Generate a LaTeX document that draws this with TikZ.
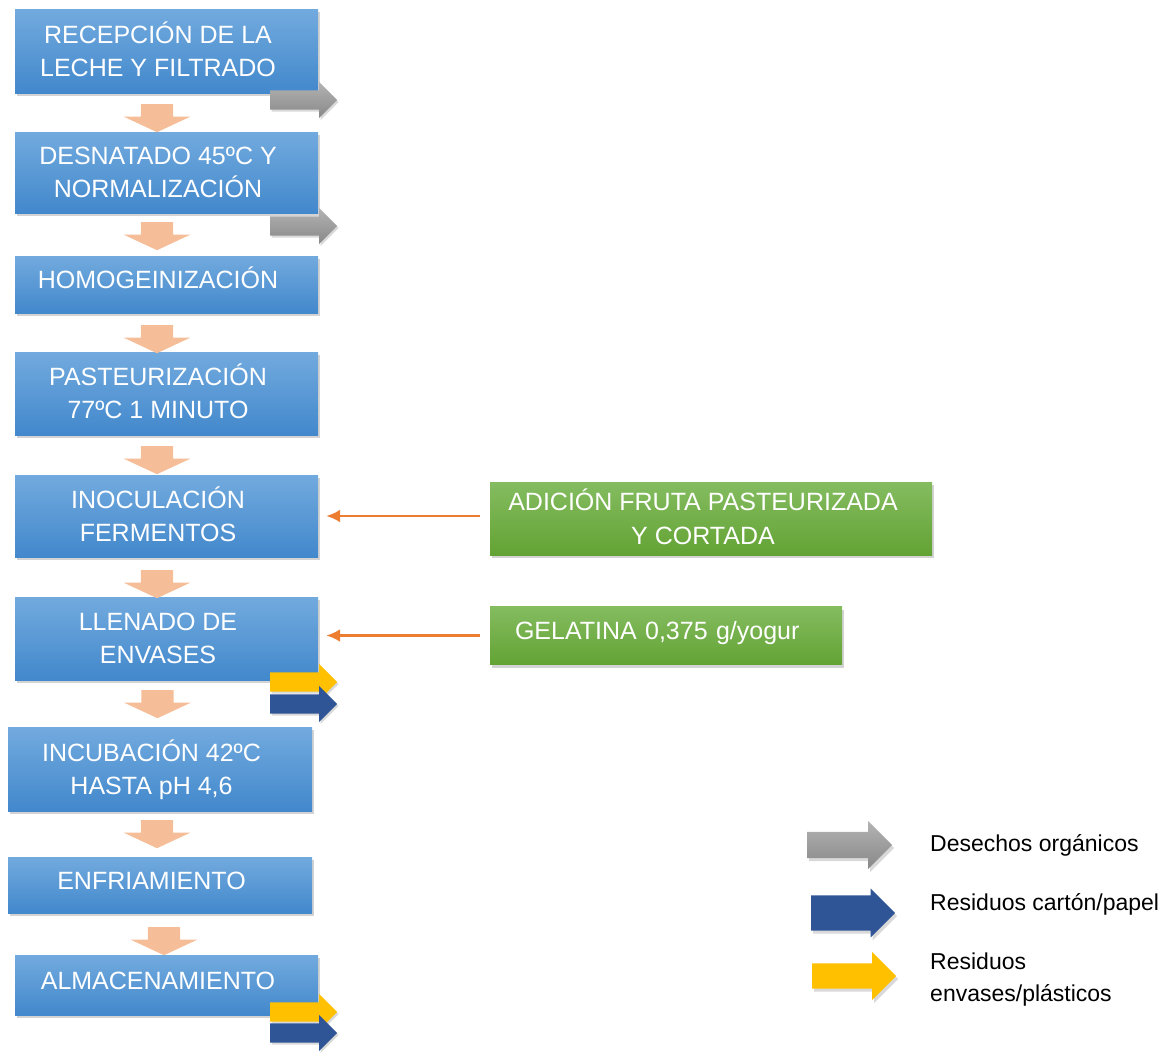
\documentclass[tikz,border=0pt]{standalone}
\usepackage{fontspec}
\setmainfont{Liberation Sans}
\usetikzlibrary{shapes.arrows, shadows, arrows.meta, positioning}
\definecolor{stepTop}{RGB}{114,170,222}
\definecolor{stepBot}{RGB}{66,136,204}
\definecolor{addTop}{RGB}{132,188,96}
\definecolor{addBot}{RGB}{99,163,52}
\definecolor{peach}{RGB}{246,190,152}
\definecolor{organic}{RGB}{160,160,160}
\definecolor{paper}{RGB}{47,85,151}
\definecolor{plastic}{RGB}{255,192,0}
\definecolor{feed}{RGB}{237,125,49}

\begin{document}
\begin{tikzpicture}[x=1pt, y=-1pt,
  stepbox/.style={top color=stepTop, bottom color=stepBot, minimum width=303pt,
                  inner sep=0pt,
                  drop shadow={shadow xshift=2pt, shadow yshift=-3pt, opacity=0.35}},
  steptext/.style={text=white, font=\fontsize{25}{33}\selectfont, align=center,
                   inner sep=0pt, xshift=-8.5pt, text height=18pt, text depth=10pt},
  twoline/.style={text height=51pt, text depth=1pt},
  addbox/.style={top color=addTop, bottom color=addBot, inner sep=0pt,
                 drop shadow={shadow xshift=2pt, shadow yshift=-3pt, opacity=0.35}},
  addtext/.style={text=white, font=\fontsize{25}{34}\selectfont, inner sep=0pt,
                  text height=18pt, text depth=10pt},
  downarr/.style={single arrow, rotate=-90, anchor=tail, fill=peach,
                  inner xsep=0pt, inner ysep=16pt, minimum height=28pt,
                  single arrow head extend=17pt, single arrow tip angle=130},
  outarr/.style={single arrow, anchor=tail, inner xsep=0pt, inner ysep=9.5pt,
                 minimum height=67pt, single arrow head extend=8.5pt,
                 single arrow tip angle=90,
                 drop shadow={shadow xshift=1.5pt, shadow yshift=-2pt, opacity=0.3}},
  keyarr/.style={single arrow, anchor=tail, inner xsep=0pt, single arrow tip angle=90,
                 minimum height=84pt,
                 drop shadow={shadow xshift=2pt, shadow yshift=-3pt, opacity=0.3}},
  keytext/.style={anchor=west, align=left, inner sep=0pt,
                  font=\fontsize{23}{32}\selectfont},
  feedarr/.style={-{Latex[length=14pt, width=13pt]}, line width=2.6pt, feed}
]
\useasboundingbox (0,0) rectangle (1166,1052);

% process steps
\node[stepbox, minimum height=84pt, label={[steptext, twoline]center:{RECEPCIÓN DE LA\\LECHE Y FILTRADO}}] (s1) at (166.5,51) {};
\node[stepbox, minimum height=81pt, label={[steptext, twoline]center:{DESNATADO 45ºC Y\\NORMALIZACIÓN}}] (s2) at (166.5,172.5) {};
\node[stepbox, minimum height=57pt, label={[steptext]center:HOMOGEINIZACIÓN}] (s3) at (166.5,284.5) {};
\node[stepbox, minimum height=83pt, label={[steptext, twoline]center:{PASTEURIZACIÓN\\77ºC 1 MINUTO}}] (s4) at (166.5,393.5) {};
\node[stepbox, minimum height=82pt, label={[steptext, twoline]center:{INOCULACIÓN\\FERMENTOS}}] (s5) at (166.5,516) {};
\node[stepbox, minimum height=83pt, label={[steptext, twoline]center:{LLENADO DE\\ENVASES}}] (s6) at (166.5,638.5) {};
\node[stepbox, minimum height=84pt, minimum width=304pt, label={[steptext, twoline]center:{INCUBACIÓN 42ºC\\HASTA pH 4,6}}] (s7) at (160,769) {};
\node[stepbox, minimum height=56pt, minimum width=304pt, label={[steptext]center:ENFRIAMIENTO}] (s8) at (160,885) {};
\node[stepbox, minimum height=60pt, label={[steptext]center:ALMACENAMIENTO}] (s9) at (166.5,985) {};

% flow between steps
\node[downarr] (d1) at (157,104) {};
\node[downarr] (d2) at (157,222) {};
\node[downarr] (d3) at (157,325) {};
\node[downarr] (d4) at (157,446) {};
\node[downarr] (d5) at (157,570) {};
\node[downarr] (d6) at (157.5,690) {};
\node[downarr] (d7) at (157,820) {};
\node[downarr] (d8) at (164,927) {};

% waste outputs
\node[outarr, top color=organic!80!white, bottom color=organic!85!black] (w1) at (270,100) {};
\node[outarr, top color=organic!80!white, bottom color=organic!85!black] (w2) at (270,226) {};
\node[outarr, fill=plastic] (w3) at (270,682) {};
\node[outarr, fill=paper] (w4) at (270,704) {};
\node[outarr, fill=plastic] (w5) at (270,1012) {};
\node[outarr, fill=paper] (w6) at (270,1033) {};

% additions
\node[addbox, minimum width=442pt, minimum height=73pt,
      label={[addtext, align=center, xshift=-8pt, text height=52pt, text depth=0pt]center:{ADICIÓN FRUTA PASTEURIZADA\\Y CORTADA}}] (fruit) at (711,518.5) {};
\node[addbox, addtext, align=left, text width=302pt, inner xsep=25pt, minimum height=58pt] (gel) at (666,635.5)
     {GELATINA 0,375 g/yogur};
\draw[feedarr, shorten <=10pt, shorten >=8pt] (fruit.west |- s5) -- (s5.east);
\draw[feedarr, shorten <=10pt, shorten >=8pt] (gel.west) -- (gel.west -| s6.east);

% legend
\node[keyarr, minimum height=85pt, inner ysep=13pt, single arrow head extend=11pt,
      top color=organic!80!white, bottom color=organic!85!black] (korg) at (807,845) {};
\node[keyarr, inner ysep=17.5pt, single arrow head extend=7pt,
      fill=paper] (kpap) at (811,913) {};
\node[keyarr, inner ysep=12.5pt, single arrow head extend=11.5pt,
      fill=plastic] (kpla) at (812,976) {};
\node[keytext] (torg) at (930,845) {Desechos orgánicos};
\node[keytext] (tpap) at (930,904) {Residuos cartón/papel};
\node[keytext] (tpla) at (930,980) {Residuos\\envases/plásticos};
\end{tikzpicture}
\end{document}
